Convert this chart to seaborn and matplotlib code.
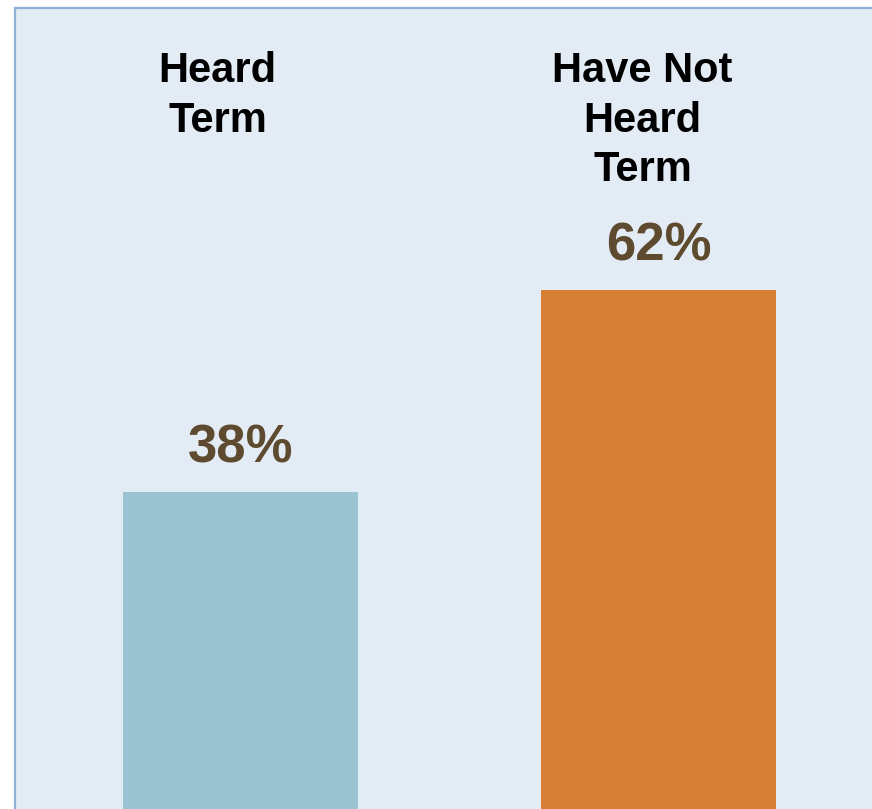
import pandas as pd
import matplotlib
matplotlib.use("Agg")
import matplotlib.pyplot as plt
import seaborn as sns

# 데이터
categories = ["Heard\nTerm", "Have Not\nHeard\nTerm"]
values = [38, 62]
bar_colors = ["#9CC3D1", "#D67F35"]

df = pd.DataFrame({"cat": categories, "pct": values})

sns.set_style("white")
plt.rcParams['font.family'] = ['Liberation Sans', 'DejaVu Sans']

fig = plt.figure(figsize=(8.72, 8.09), dpi=100)
ax = fig.add_axes([15 / 872, 0, 1 - 15 / 872, 801 / 809])
ax.set_facecolor("#E3EBF5")

sns.barplot(data=df, x="cat", y="pct", hue="cat", palette=bar_colors,
            width=0.562, legend=False, ax=ax, saturation=1,
            edgecolor="none", linewidth=0)

ax.set_xlim(-0.539, 1.511)
ax.set_ylim(0.36, 95.5)

# 막대 위 퍼센트
for i, v in enumerate(values):
    ax.annotate(f"{v}%", (i, v), xytext=(0, 21), textcoords="offset points",
                ha="center", va="baseline", fontsize=38, fontweight="bold",
                color="#5E4A2E")

# 상단 카테고리 이름
label_x = [-0.054, 0.962]
for x, lab in zip(label_x, categories):
    ax.text(x, 0.946, lab, transform=ax.get_xaxis_transform(), ha="center",
            va="top", fontsize=30, fontweight="bold", color="black",
            linespacing=1.31)

ax.set_xticks([])
ax.set_yticks([])
ax.set_xlabel("")
ax.set_ylabel("")
for s in ["right", "bottom"]:
    ax.spines[s].set_visible(False)
for s in ["left", "top"]:
    ax.spines[s].set_color("#8FB0D8")
    ax.spines[s].set_linewidth(1.6)

fig.savefig("out.png", dpi=100)
